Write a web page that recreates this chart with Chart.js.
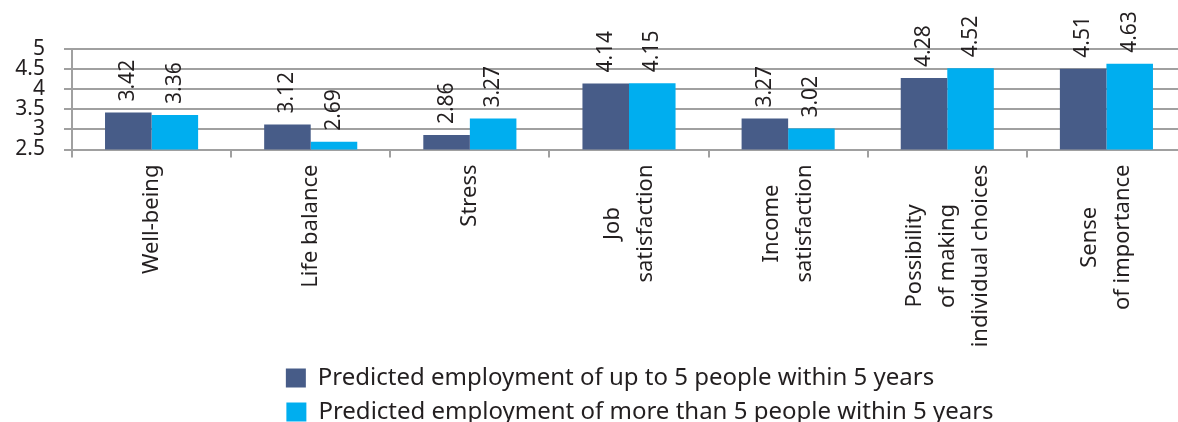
<!DOCTYPE html>
<html>
<head>
<meta charset="utf-8">
<script src="https://cdn.jsdelivr.net/npm/chart.js@4"></script>
<style>
  html, body { margin: 0; padding: 0; background: #fff; overflow: hidden; }
  #wrap { width: 1186px; height: 434px; }
</style>
</head>
<body>
<div id="wrap"><canvas id="chart"></canvas></div>
<script>
// category labels, one array of lines per category
const categories = [
  ['Well-being'],
  ['Life balance'],
  ['Stress'],
  ['Job', 'satisfaction'],
  ['Income', 'satisfaction'],
  ['Possibility', 'of making', 'individual choices'],
  ['Sense', 'of importance'],
];
const seriesNames = [
  'Predicted employment of up to 5 people within 5 years',
  'Predicted employment of more than 5 people within 5 years',
];
const upTo5 = [3.42, 3.12, 2.86, 4.14, 3.27, 4.28, 4.51];
const moreThan5 = [3.36, 2.69, 3.27, 4.15, 3.02, 4.52, 4.63];
const yTicks = [2.5, 3, 3.5, 4, 4.5, 5];

const FONT = '"Noto Sans", sans-serif';
const textColor = '#231f20';
const gridColor = '#a0a0a0';

// rotated category labels, lines centred on each other
const categoryLabels = {
  id: 'categoryLabels',
  afterDraw(chart) {
    const { ctx, chartArea } = chart;
    const x = chart.scales.x;
    ctx.save();
    ctx.font = '22px ' + FONT;
    ctx.fillStyle = textColor;
    ctx.textAlign = 'center';
    ctx.textBaseline = 'middle';
    categories.forEach((lines, i) => {
      const px = x.getPixelForValue(i);
      const maxW = Math.max(...lines.map(l => ctx.measureText(l).width));
      ctx.save();
      ctx.translate(px, chartArea.bottom + 15 + maxW / 2);
      ctx.rotate(-Math.PI / 2);
      lines.forEach((line, j) => {
        ctx.fillText(line, 0, (j - (lines.length - 1) / 2) * 33);
      });
      ctx.restore();
    });
    ctx.restore();
  }
};

// value labels above bars, rotated
const valueLabels = {
  id: 'valueLabels',
  afterDatasetsDraw(chart) {
    const ctx = chart.ctx;
    ctx.save();
    ctx.font = '21px ' + FONT;
    ctx.fillStyle = textColor;
    ctx.textAlign = 'left';
    ctx.textBaseline = 'middle';
    chart.data.datasets.forEach((ds, di) => {
      chart.getDatasetMeta(di).data.forEach((bar, i) => {
        ctx.save();
        ctx.translate(bar.x, bar.y - 11);
        ctx.rotate(-Math.PI / 2);
        ctx.fillText(ds.data[i].toFixed(2), 0, 0);
        ctx.restore();
      });
    });
    ctx.restore();
  }
};

// nudge the legend block a little to the right, like the original
const legendShift = {
  id: 'legendShift',
  afterLayout(chart) {
    chart.legend.left += 11;
    chart.legend.right += 11;
  }
};

new Chart(document.getElementById('chart'), {
  type: 'bar',
  data: {
    labels: categories,
    datasets: [
      { label: seriesNames[0], data: upTo5, backgroundColor: '#475c88' },
      { label: seriesNames[1], data: moreThan5, backgroundColor: '#00aeef' },
    ],
  },
  options: {
    responsive: true,
    maintainAspectRatio: false,
    animation: false,
    layout: { padding: { top: 49, left: 0, right: 0, bottom: 0 } },
    datasets: { bar: { categoryPercentage: 0.585, barPercentage: 1 } },
    scales: {
      x: {
        grid: { display: true, drawOnChartArea: false, drawTicks: true, tickLength: 8, color: gridColor, lineWidth: 2 },
        border: { color: gridColor, width: 2 },
        ticks: { display: false },
        afterFit(scale) { scale.height = 206.5; },
      },
      y: {
        min: 2.5,
        max: 5,
        afterBuildTicks(scale) { scale.ticks = yTicks.map(v => ({ value: v })); },
        grid: { color: gridColor, lineWidth: 2, tickLength: 8 },
        border: { color: gridColor, width: 2 },
        ticks: {
          color: textColor,
          font: { family: FONT, size: 21 },
          padding: 19,
          autoSkip: false,
          callback: v => String(v),
        },
        afterFit(scale) { scale.width = 72; },
      },
    },
    plugins: {
      tooltip: { enabled: false },
      legend: {
        position: 'bottom',
        fullSize: false,
        labels: {
          color: textColor,
          font: { family: FONT, size: 24 },
          boxWidth: 20,
          boxHeight: 19,
          padding: 10,
          generateLabels(chart) {
            const items = Chart.defaults.plugins.legend.labels.generateLabels(chart);
            const ctx = chart.ctx;
            ctx.save();
            ctx.font = '24px ' + FONT;
            const target = Math.max(...items.map(it => ctx.measureText(it.text).width));
            // pad entries with hair spaces so both rows start at the same x
            items.forEach(it => {
              while (ctx.measureText(it.text).width < target) it.text += '\u200A';
            });
            ctx.restore();
            return items;
          },
        },
      },
    },
  },
  plugins: [categoryLabels, valueLabels, legendShift],
});
</script>
</body>
</html>
